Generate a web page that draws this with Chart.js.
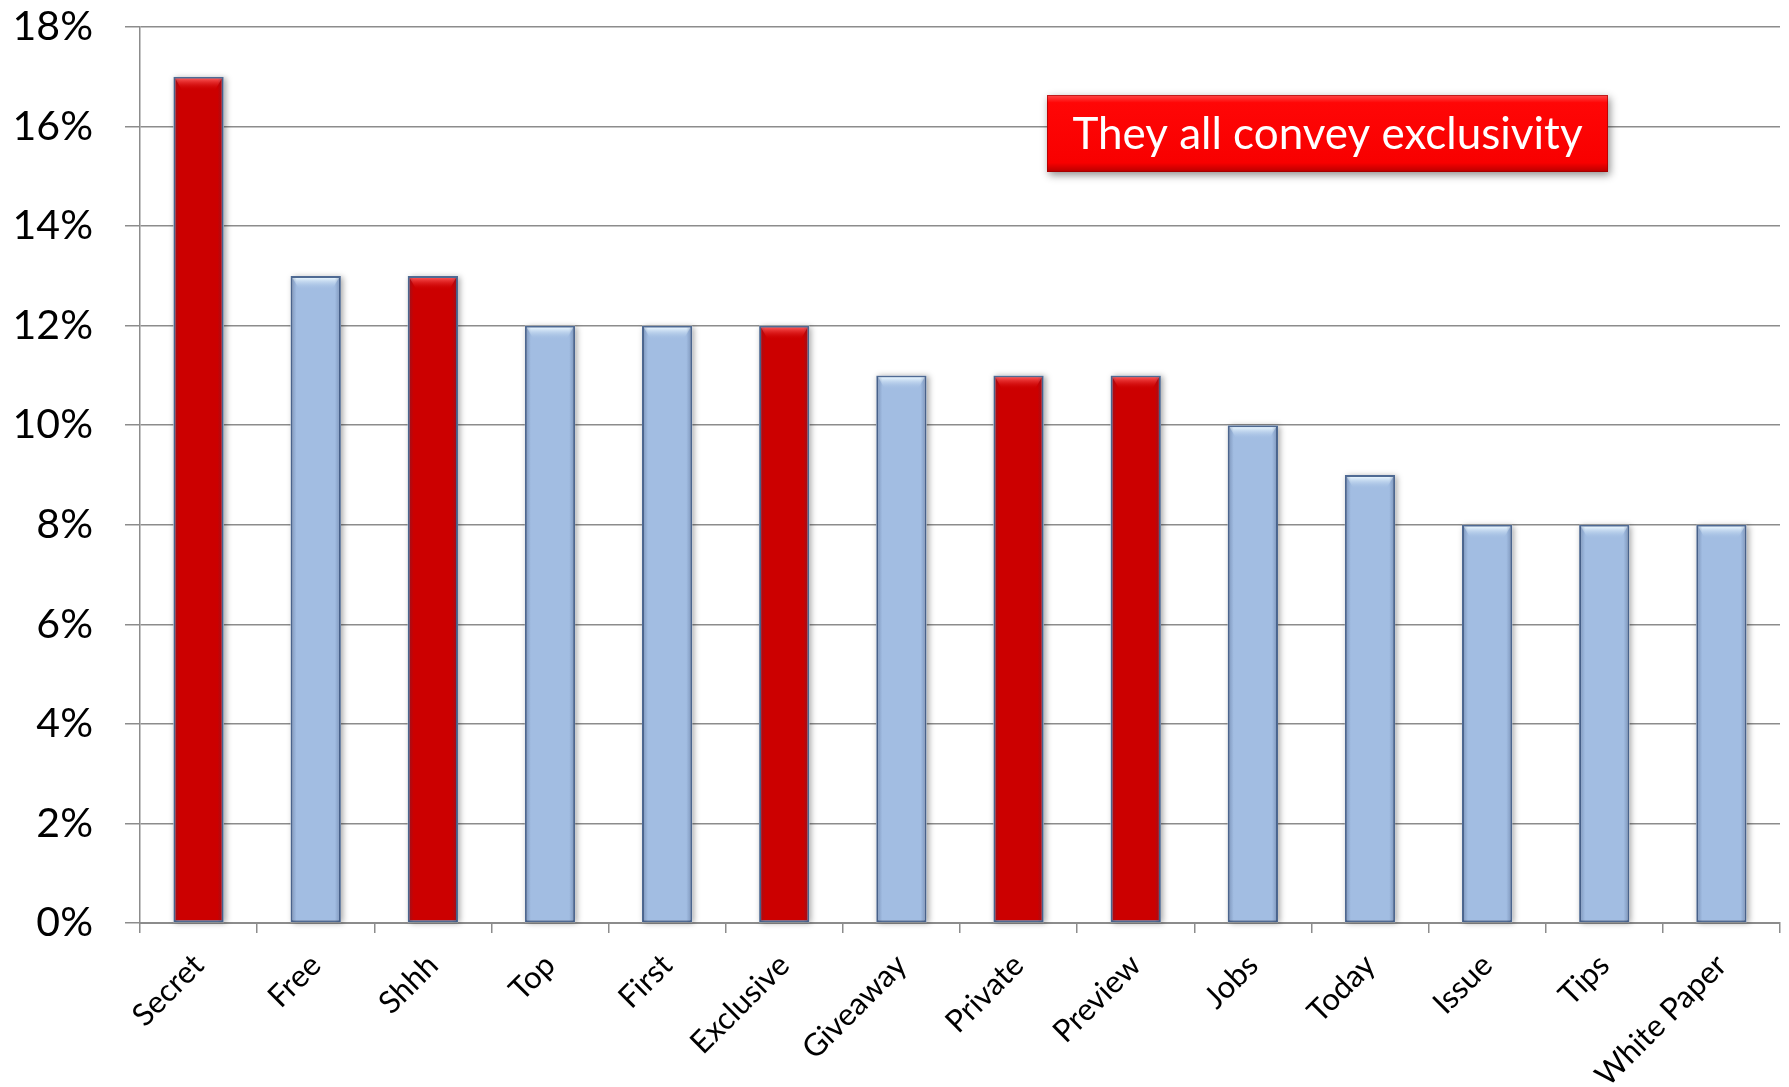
<!DOCTYPE html>
<html>
<head>
<meta charset="utf-8">
<script src="https://cdn.jsdelivr.net/npm/chart.js@4.4.1/dist/chart.umd.min.js"></script>
<style>
  html, body { margin: 0; padding: 0; background: #fff; }
  #wrap { width: 1789px; height: 1087px; position: relative; }
</style>
</head>
<body>
<div id="wrap"><canvas id="barChart"></canvas></div>
<script>
var words = ['Secret', 'Free', 'Shhh', 'Top', 'First', 'Exclusive', 'Giveaway',
    'Private', 'Preview', 'Jobs', 'Today', 'Issue', 'Tips', 'White Paper'];
var shares = [17, 13, 13, 12, 12, 12, 11, 11, 11, 10, 9, 8, 8, 8];
var exclusiveWords = ['Secret', 'Shhh', 'Exclusive', 'Private', 'Preview'];
var calloutText = 'They all convey exclusivity';

var RED = '#cc0000';
var BLUE = '#a2bde2';

var barColors = words.map(w => exclusiveWords.indexOf(w) >= 0 ? RED : BLUE);

// bevelled look on the bars: shadow, lighter cap and darker sides
var bevelBars = {
    id: 'bevelBars',
    beforeDatasetsDraw(chart) {
        var ctx = chart.ctx;
        var meta = chart.getDatasetMeta(0);
        ctx.save();
        meta.data.forEach((bar, i) => {
            var w = bar.width;
            var x = bar.x - w / 2;
            ctx.shadowColor = 'rgba(0,0,0,0.35)';
            ctx.shadowBlur = 6;
            ctx.shadowOffsetX = 2;
            ctx.shadowOffsetY = 1;
            ctx.fillStyle = '#fff';
            ctx.fillRect(x, bar.y, w, bar.base - bar.y);
        });
        ctx.restore();
    },
    afterDatasetsDraw(chart) {
        var ctx = chart.ctx;
        var meta = chart.getDatasetMeta(0);
        ctx.save();
        meta.data.forEach((bar, i) => {
            var w = bar.width;
            var x = bar.x - w / 2;
            var top = bar.y + 2;
            var red = barColors[i] === RED;
            // cap highlight
            var cap = ctx.createLinearGradient(0, top, 0, top + 12);
            cap.addColorStop(0, red ? 'rgba(255,90,90,0.9)' : 'rgba(235,248,255,0.95)');
            cap.addColorStop(1, red ? 'rgba(204,0,0,0)' : 'rgba(162,189,226,0)');
            ctx.fillStyle = cap;
            ctx.beginPath();
            ctx.moveTo(x + 2, top);
            ctx.lineTo(x + w - 2, top);
            ctx.lineTo(x + w - 9, top + 12);
            ctx.lineTo(x + 9, top + 12);
            ctx.closePath();
            ctx.fill();
            // side shading
            var side = ctx.createLinearGradient(x, 0, x + w, 0);
            side.addColorStop(0, 'rgba(40,60,100,0.35)');
            side.addColorStop(0.12, 'rgba(40,60,100,0)');
            side.addColorStop(0.88, 'rgba(40,60,100,0)');
            side.addColorStop(1, 'rgba(40,60,100,0.35)');
            ctx.fillStyle = side;
            ctx.fillRect(x + 1, top, w - 2, bar.base - top);
        });
        ctx.restore();
    }
};

// red callout box in the upper right
var callout = {
    id: 'callout',
    afterDraw(chart) {
        var ctx = chart.ctx;
        var x = 1047, y = 95, w = 561, h = 77;
        ctx.save();
        ctx.shadowColor = 'rgba(0,0,0,0.45)';
        ctx.shadowBlur = 8;
        ctx.shadowOffsetX = 2;
        ctx.shadowOffsetY = 3;
        ctx.fillStyle = '#ff0000';
        ctx.fillRect(x, y, w, h);
        ctx.restore();

        ctx.save();
        var g = ctx.createLinearGradient(0, y, 0, y + h);
        g.addColorStop(0, '#ff4a4a');
        g.addColorStop(0.1, '#ff0606');
        g.addColorStop(0.88, '#f80000');
        g.addColorStop(1, '#b80000');
        ctx.fillStyle = g;
        ctx.fillRect(x, y, w, h);
        ctx.strokeStyle = 'rgba(150,0,0,0.6)';
        ctx.lineWidth = 1;
        ctx.strokeRect(x + 0.5, y + 0.5, w - 1, h - 1);

        ctx.fillStyle = '#ffffff';
        ctx.font = '44px Lato';
        ctx.textAlign = 'center';
        ctx.textBaseline = 'middle';
        ctx.fillText(calloutText, x + w / 2, y + h / 2 + 1);
        ctx.restore();
    }
};

var ctx = document.getElementById('barChart').getContext('2d');
new Chart(ctx, {
    type: 'bar',
    data: {
        labels: words,
        datasets: [{
            data: shares,
            backgroundColor: barColors,
            borderColor: '#4f6a93',
            borderWidth: 2,
            borderSkipped: false,
            categoryPercentage: 1,
            barPercentage: 0.43
        }]
    },
    options: {
        responsive: true,
        maintainAspectRatio: false,
        animation: false,
        layout: { padding: { top: 27, right: 9, left: 0, bottom: 0 } },
        plugins: {
            legend: { display: false },
            tooltip: { enabled: false }
        },
        scales: {
            x: {
                afterFit(scale) { scale.height = 164; },
                grid: {
                    offset: true,
                    drawOnChartArea: false,
                    color: '#8c8c8c',
                    lineWidth: 1.5,
                    tickLength: 10
                },
                border: { color: '#8c8c8c', width: 2 },
                ticks: {
                    maxRotation: 45,
                    minRotation: 45,
                    padding: 14,
                    color: '#000',
                    font: { family: 'Lato', size: 31 }
                }
            },
            y: {
                min: 0,
                max: 18,
                afterFit(scale) {
                    // fixed axis width; the plot top comes from layout padding only
                    scale.width = 140;
                    scale.paddingTop = 0;
                    scale.paddingBottom = 0;
                },
                grid: {
                    color: '#8c8c8c',
                    lineWidth: 1.5,
                    tickLength: 15
                },
                border: { color: '#8c8c8c', width: 1.5 },
                ticks: {
                    stepSize: 2,
                    padding: 32,
                    color: '#000',
                    font: { family: 'Lato', size: 41 },
                    callback: v => v + '%'
                }
            }
        }
    },
    plugins: [bevelBars, callout]
});
</script>
</body>
</html>
